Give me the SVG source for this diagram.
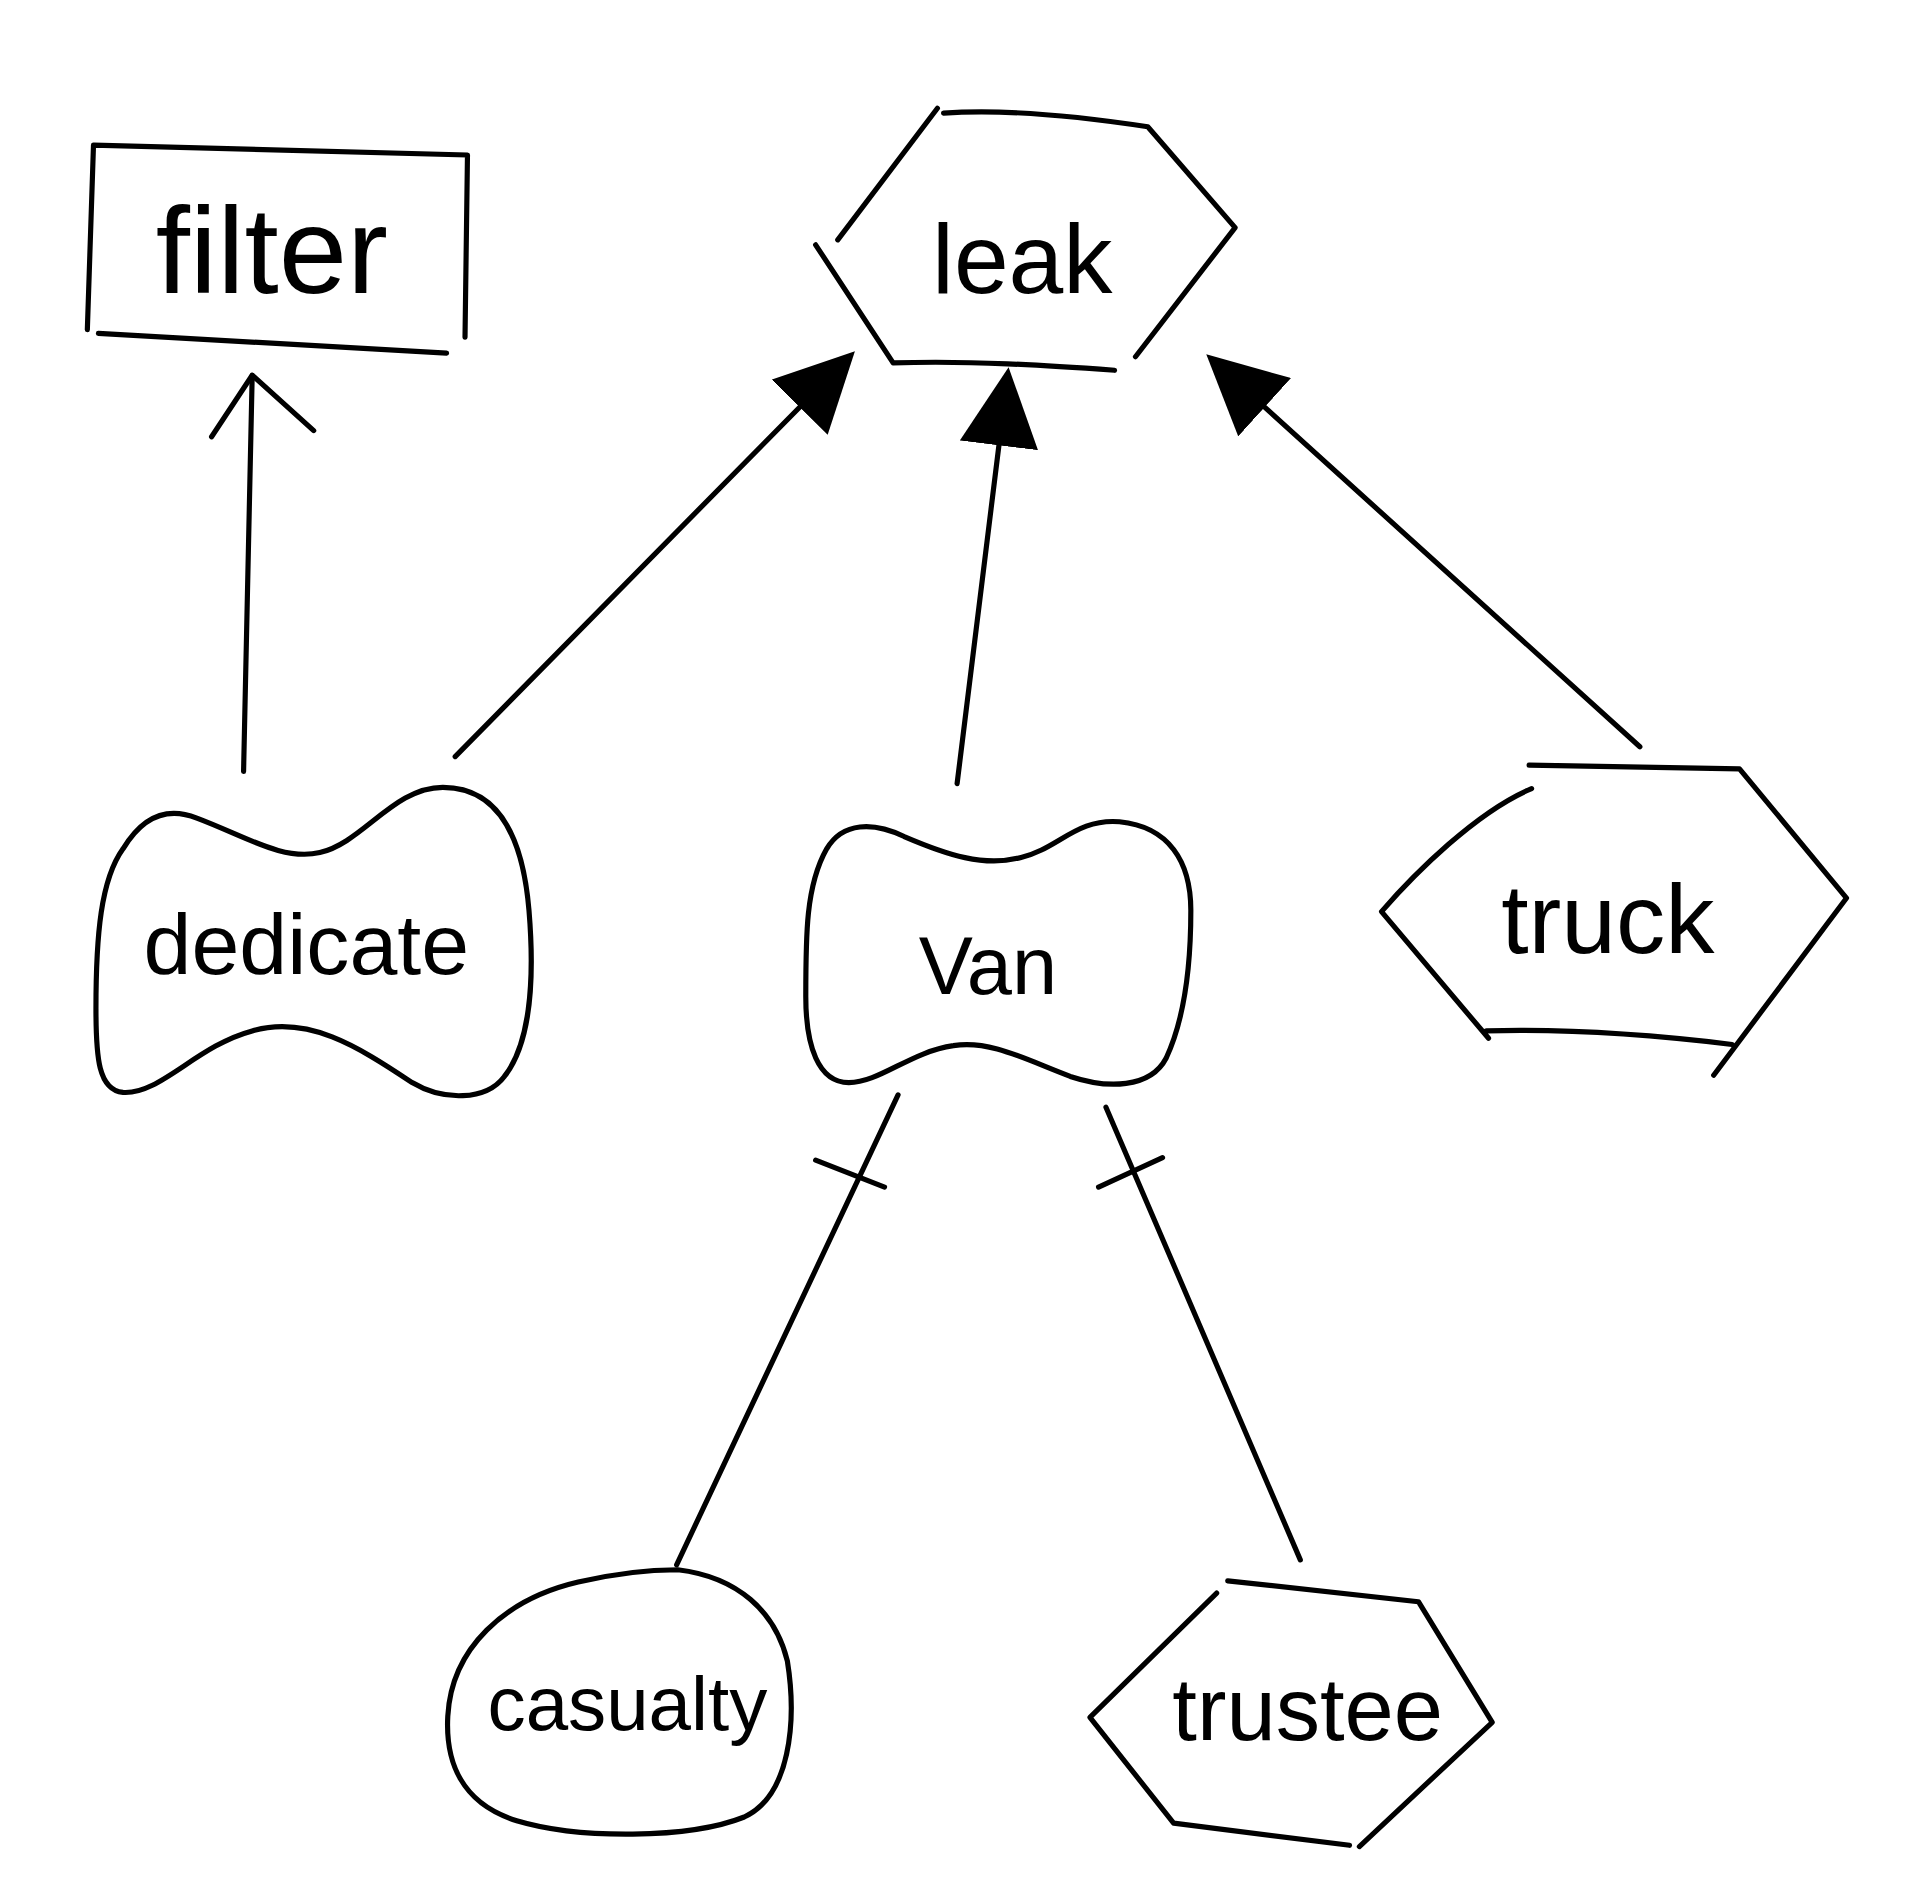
<svg xmlns="http://www.w3.org/2000/svg" width="1929" height="1900" viewBox="0 0 1929 1900">
<defs>
<style>
.s{fill:none;stroke:#000;stroke-width:4.2;stroke-linecap:round;stroke-linejoin:round}
.t{font-family:"Liberation Sans",Arial,sans-serif;fill:#000;text-anchor:middle}
</style>
<marker id="tri" viewBox="0 0 10 10" refX="0" refY="5" markerUnits="userSpaceOnUse" markerWidth="64" markerHeight="64" orient="auto"><path d="M0,0 L10,5 L0,10 Z" fill="#000"/></marker>
</defs>
<rect width="1929" height="1900" fill="#fff"/>
<g transform="scale(1.2302)">
<g id="filter">
<path class="s" d="M71,268 L76,118 L380,126 L378,274 M80,271 L363,287"/>
<text class="t" x="221" y="238" font-size="100">filter</text>
</g>
<g id="leak">
<path class="s" d="M681,195 L762,88 M767,92 C820,88 880,95 933,103 L1004,185 L923,290 M663,199 L726,295 C790,293 850,297 906,301"/>
<text class="t" x="831" y="238" font-size="80">leak</text>
</g>
<g id="dedicate">
<path class="s" d="M100,690 C115,665 135,655 160,665 C200,680 230,700 260,693 C295,685 320,640 360,640 C405,640 425,680 430,740 C435,800 430,850 410,875 C395,895 360,895 335,880 C290,850 250,825 205,838 C160,850 130,890 100,888 C80,886 78,860 78,820 C78,760 82,715 100,690 Z"/>
<text class="t" x="249" y="792" font-size="70">dedicate</text>
</g>
<g id="van">
<path class="s" d="M672,690 C685,668 710,668 735,680 C770,695 800,705 830,697 C860,690 875,665 910,668 C950,672 968,700 968,740 C968,790 962,830 948,860 C935,885 900,885 870,875 C835,862 805,845 775,850 C740,855 715,880 690,880 C665,880 655,850 655,810 C655,760 655,720 672,690 Z"/>
<text class="t" x="803" y="808" font-size="66">Van</text>
</g>
<g id="truck">
<path class="s" d="M1245,641 C1200,660 1150,710 1123,741 L1210,844 M1208,838 C1280,836 1350,842 1408,849 M1243,622 L1414,625 L1501,730 L1393,874"/>
<text class="t" x="1307" y="775" font-size="80">truck</text>
</g>
<g id="casualty">
<path class="s" d="M551,1276 C600,1282 630,1310 640,1350 C648,1400 642,1460 605,1477 C560,1495 470,1495 420,1480 C375,1466 362,1432 364,1395 C367,1340 410,1300 470,1286 C500,1279 530,1276 551,1276 Z"/>
<text class="t" x="510" y="1406" font-size="62">casualty</text>
</g>
<g id="trustee">
<path class="s" d="M989,1295 L886,1396 L954,1482 L1097,1500 M998,1285 L1153,1302 L1213,1400 L1105,1501"/>
<text class="t" x="1063" y="1414" font-size="72">trustee</text>
</g>
<g id="connectors">
<line class="s" x1="198" y1="627" x2="205" y2="305"/>
<polyline class="s" points="172,355 205,305 255,350"/>
<line class="s" x1="370" y1="615" x2="650" y2="331" marker-end="url(#tri)"/>
<line class="s" x1="778" y1="637" x2="812" y2="362" marker-end="url(#tri)"/>
<line class="s" x1="1333" y1="607" x2="1028" y2="331" marker-end="url(#tri)"/>
<line class="s" x1="730" y1="890" x2="550" y2="1272"/>
<line class="s" x1="663" y1="943" x2="719" y2="965"/>
<line class="s" x1="899" y1="900" x2="1057" y2="1268"/>
<line class="s" x1="893" y1="965" x2="945" y2="941"/>
</g>
</g>
</svg>
